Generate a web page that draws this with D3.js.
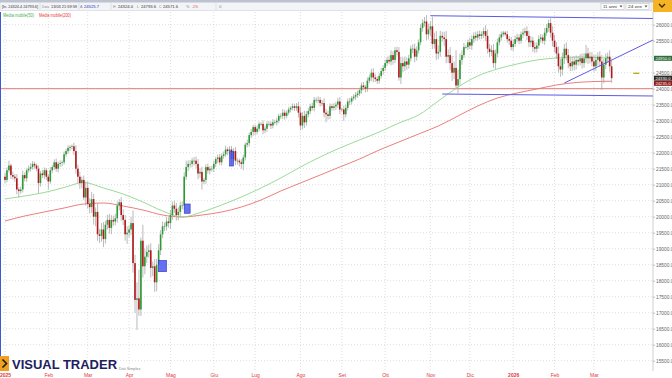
<!DOCTYPE html>
<html>
<head>
<meta charset="utf-8">
<style>
body{margin:0;background:#fff;}
svg{display:block;font-family:"Liberation Sans",Arial,sans-serif;}
</style>
</head>
<body>
<script src="https://cdn.jsdelivr.net/npm/d3@7"></script>
<script>
// daily closes, 2 Jan 2025 -> 13 Mar 2026 (open = previous close)
var closes = [
  // gen 2025
  21150,21450,21600,21300,21250,21200,20850,20800,20850,21300,21200,21450,21500,21550,21650,21600,21500,21050,21350,21300,21450,21250,
  // feb
  21100,21450,21550,21700,21500,21650,21680,21700,21950,22050,22150,22180,22200,22050,21500,21250,21050,21150,20600,20900,
  // mar
  20400,20300,20550,20000,20150,19450,19400,19600,19300,19750,19900,19650,19900,19850,19950,20350,20450,20050,19900,19450,19500,
  // apr
  19600,19800,18550,17400,17450,17100,19250,18450,18750,18900,18950,18400,18450,17950,18500,18950,19450,19700,19700,19850,19800,
  // mag
  20050,20350,20250,20050,20150,20350,20350,21250,21550,21650,21650,21750,21750,21650,21350,21400,21100,21150,21550,21450,21500,21500,
  // giu
  21650,21800,21850,21700,21900,21950,22100,22050,22100,21800,22050,21750,21750,21700,21650,21850,22250,22300,22550,22650,22800,
  // lug
  22650,22750,22900,22900,22700,22750,22900,22900,22850,22950,22950,23000,23150,23150,23250,23150,23250,23350,23400,23450,23400,23450,23250,
  // ago
  22850,23150,22950,23200,23300,23450,23400,23650,23650,23650,23550,23550,23250,23200,23150,23450,23400,23450,23500,23600,23350,
  // set
  23350,23200,23400,23600,23600,23700,23750,23800,23850,23950,24100,24050,24000,24250,24350,24500,24350,24300,24250,24400,24550,24650,
  // ott
  24800,24900,24850,25050,24900,25200,25150,24350,24800,24700,24850,24750,24950,25250,25250,25000,25200,25450,25900,26050,26100,25700,25850,
  // nov
  25950,25400,25550,25100,25150,25650,25600,25550,25000,25050,24800,24500,24650,24100,24300,24900,25050,25300,25300,25450,
  // dic
  25350,25550,25650,25600,25700,25650,25700,25800,25650,25250,25150,25200,24800,25100,25450,25600,25700,25750,25700,25550,25500,25300,
  // gen 2026
  25400,25550,25600,25500,25700,25750,25800,25650,25450,25500,25300,25250,25350,25550,25600,25500,25750,25900,26050,25750,25500,
  // feb
  25300,25100,24700,24600,24950,25250,25050,24800,24700,24850,24750,24900,24850,24950,24800,24950,25100,24950,25000,24850,
  // mar
  24700,24900,25000,24850,24350,24750,24950,25000,24700,24330
];
var firstOpen = 21250;

// wick length above / below the body, points
var wickUp = [
  120,90,150,60,110,80,130,70,90,140, 80,60,100,120,90,70,60,100,80,110,
  90,70,80,100,60,90,120,70,80,60, 90,70,80,60,60,110,180,130,150,100,
  140,200,200,180,220,160,140,250,170,200, 230,120,160,190,150,130,140,120,100,160,
  180,150,200,120,200,400,260,500,900,100, 500,250,200,180,220,150,230,180,190,130,
  150,120,140,130,160,120,150,180,140,120, 130,140,200,110,120,90,110,130,150,120,
  160,60,90,110,80,90,100,70,90,110, 80,90,120,70,100,110,90,130,80,60,
  100,90,70,110,80,90,70,80,100,70, 50,110,90,80,90,70,100,80,90,70,
  80,110,90,70,80,60,90,80,100,140, 180,120,160,100,90,80,110,90,80,110,
  90,100,150,120,110,90,80,100,90,110, 140,60,120,100,90,110,70,80,100,90,
  80,90,110,70,100,90,120,140,100,80, 90,100,80,110,90,130,150,120,100,110,
  150,200,180,150,120,110,100,140,160,120, 90,110,120,140,200,180,150,300,200,250,
  200,160,130,180,250,180,250,220,200,550, 300,200,150,130,60,80,140,120,110,130,
  100,120,90,110,180,200,150,160,200,120, 110,100,90,60,50,110,90,120,130,110,
  120,100,90,130,110,150,160,140,120,150, 100,120,110,90,150,120,110,150,200,180,
  160,220,230,180,150,200,190,170,150,160, 140,120,130,150,160,270,180,150,140,200,
  160,140,170,200,180,150,130,200,190
];
var wickDn = [
  100,80,70,120,90,110,150,200,80,90, 100,120,70,90,80,100,80,310,110,90,
  120,100,250,70,90,80,100,120,90,110, 70,80,90,100,80,120,150,200,180,160,
  80,250,150,200,180,250,300,200,220,180, 250,140,150,180,200,130,120,140,150,180,
  160,200,300,150,180,300,400,940,200,200, 350,250,200,180,300,260,300,280,200,150,
  120,150,130,140,180,150,130,170,160,150, 120,140,100,130,120,110,150,140,180,130,
  250,80,120,100,130,90,110,100,120,90, 100,90,80,120,110,150,100,140,120,130,
  150,200,90,80,110,90,120,100,80,90, 60,120,90,100,80,110,90,70,100,80,
  90,100,120,80,70,90,80,100,90,150, 150,120,180,110,90,100,80,110,90,100,
  110,90,150,250,120,100,90,80,110,100, 140,60,200,100,80,110,90,70,100,90,
  80,110,90,120,100,80,110,150,90,100, 90,80,110,100,90,80,120,150,100,110,
  100,200,180,150,160,120,100,140,170,120, 100,90,120,110,180,160,200,170,150,200,
  180,150,130,220,200,200,220,260,200,120, 240,180,150,100,50,90,110,140,120,100,
  90,110,100,120,160,150,170,130,150,180, 120,100,90,70,60,110,130,100,120,90,
  100,110,90,120,100,130,150,140,150,130, 120,100,110,90,130,100,120,150,180,160,
  170,200,230,190,180,170,160,150,140,180, 150,130,120,170,150,140,180,160,150,170,
  150,170,160,390,180,140,150,170,150
];

// moving averages as drawn, sampled every 10 sessions
var maIdx = [0,10,20,30,40,50,60,70,80,90,100,110,120,130,140,150,160,170,180,190,200,210,220,230,240,250,260,270,280,290,300,308];
var ma50  = [20553,20647,20756,20912,21069,20897,20709,20459,20178,19991,20147,20366,20616,20897,21209,21553,21866,22147,22397,22647,22928,23178,23616,24053,24397,24616,24772,24897,24960,24990,24975,24950];
var ma200 = [19866,20022,20147,20272,20397,20428,20334,20209,20053,19991,20053,20147,20303,20522,20803,21053,21303,21553,21803,22084,22334,22584,22834,23147,23459,23709,23866,23991,24116,24194,24225,24235];

var holidays = ["2025-04-18","2025-12-25","2026-01-01"];
var monthNames = ["Gen","Feb","Mar","Apr","Mag","Giu","Lug","Ago","Set","Ott","Nov","Dic"];
var yTicks = [15500,16000,16500,17000,17500,18000,18500,19000,19500,20000,20500,21000,21500,22000,22500,23000,23500,24000,24500,25000,25500,26000];

// highlighted boxes [from, to, top, bottom] and drawn lines [i1, v1, i2, v2]
var boxes = [[78,82,18635,18281],[91,94,20397,20107],[114,116,22031,21584]];
var trendLines = [[216,26281,329,26194],[222,23834,329,23772],[284,24178,329,25522]];
var hLevel = 24000;
var orderMark = [319,322,24480];

var W = 672, H = 378;
var plotR = 653, plotT = 12, plotB = 371;

// trading days
var fmt = d3.timeFormat("%Y-%m-%d");
var dates = d3.timeDay.range(new Date(2025,0,2), new Date(2026,2,14))
  .filter(function(d){ return d.getDay() > 0 && d.getDay() < 6 && holidays.indexOf(fmt(d)) < 0; });
if (dates.length !== closes.length) console.log("length mismatch", dates.length, closes.length);

var candles = closes.map(function(c, i){
  var o = i === 0 ? firstOpen : closes[i-1];
  return {i: i, o: o, c: c, h: Math.max(o,c) + wickUp[i], l: Math.min(o,c) - wickDn[i]};
});

var x = d3.scaleLinear().domain([0, 329]).range([5, plotR]);
var y = d3.scaleLinear().domain([15500, 26000]).range([360.7, 24.7]);

var svg = d3.select("body").append("svg").attr("width", W).attr("height", H);

svg.append("defs").append("clipPath").attr("id","clip")
  .append("rect").attr("x",0).attr("y",plotT).attr("width",plotR).attr("height",plotB-plotT);

// grid
var monthIdx = [];
dates.forEach(function(d, i){ if (i === 0 || d.getMonth() !== dates[i-1].getMonth()) monthIdx.push(i); });

svg.append("g").selectAll("line").data(yTicks).enter().append("line")
  .attr("x1", 0).attr("x2", plotR)
  .attr("y1", function(d){ return y(d); }).attr("y2", function(d){ return y(d); })
  .attr("stroke", "#c8c8c8").attr("stroke-width", 0.6).attr("stroke-dasharray", "1,2");
svg.append("g").selectAll("line").data(monthIdx).enter().append("line")
  .attr("x1", function(d){ return x(d); }).attr("x2", function(d){ return x(d); })
  .attr("y1", plotT).attr("y2", plotB)
  .attr("stroke", "#c8c8c8").attr("stroke-width", 0.6).attr("stroke-dasharray", "1,2");

var plot = svg.append("g").attr("clip-path", "url(#clip)");

// horizontal level + moving averages
plot.append("line").attr("x1", 0).attr("x2", plotR).attr("y1", y(hLevel)).attr("y2", y(hLevel))
  .attr("stroke", "#e06a6a").attr("stroke-width", 0.9);

var maLine = d3.line().curve(d3.curveMonotoneX)
  .x(function(d){ return x(d[0]); }).y(function(d){ return y(d[1]); });
plot.append("path").datum(maIdx.map(function(d, k){ return [d, ma200[k]]; }))
  .attr("d", maLine).attr("fill", "none").attr("stroke", "#e8706e").attr("stroke-width", 0.9);
plot.append("path").datum(maIdx.map(function(d, k){ return [d, ma50[k]]; }))
  .attr("d", maLine).attr("fill", "none").attr("stroke", "#8fd68f").attr("stroke-width", 0.9);

// candles
var cg = plot.append("g");
cg.selectAll("line").data(candles).enter().append("line")
  .attr("x1", function(d){ return x(d.i); }).attr("x2", function(d){ return x(d.i); })
  .attr("y1", function(d){ return y(d.h); }).attr("y2", function(d){ return y(d.l); })
  .attr("stroke", "#a8a8a8").attr("stroke-width", 0.8);
cg.selectAll("rect").data(candles).enter().append("rect")
  .attr("x", function(d){ return x(d.i) - 0.8; })
  .attr("width", 1.6)
  .attr("y", function(d){ return y(Math.max(d.o, d.c)); })
  .attr("height", function(d){ return Math.max(0.6, Math.abs(y(d.o) - y(d.c))); })
  .attr("fill", function(d){ return d.c >= d.o ? "#2c9a35" : "#b3161b"; });

// blue highlight boxes
plot.selectAll(".box").data(boxes).enter().append("rect")
  .attr("x", function(d){ return x(d[0]); })
  .attr("width", function(d){ return x(d[1]) - x(d[0]); })
  .attr("y", function(d){ return y(d[2]); })
  .attr("height", function(d){ return y(d[3]) - y(d[2]); })
  .attr("fill", "#4a58ee").attr("fill-opacity", 0.85).attr("stroke", "#2b35c0").attr("stroke-width", 0.6);

// trend lines
plot.selectAll(".tl").data(trendLines).enter().append("line")
  .attr("x1", function(d){ return x(d[0]); }).attr("y1", function(d){ return y(d[1]); })
  .attr("x2", function(d){ return x(d[2]); }).attr("y2", function(d){ return y(d[3]); })
  .attr("stroke", "#5b5be0").attr("stroke-width", 1);

plot.append("line").attr("x1", x(orderMark[0])).attr("x2", x(orderMark[1]))
  .attr("y1", y(orderMark[2])).attr("y2", y(orderMark[2]))
  .attr("stroke", "#c9a21a").attr("stroke-width", 1.4);

// frame
svg.append("line").attr("x1", 0.5).attr("x2", 0.5).attr("y1", plotT).attr("y2", plotB)
  .attr("stroke", "#3b5bd0").attr("stroke-width", 1);
svg.append("line").attr("x1", plotR).attr("x2", plotR).attr("y1", plotT).attr("y2", plotB)
  .attr("stroke", "#b0b0b0").attr("stroke-width", 0.6);

// value tags on the right, nudged apart so they don't cover each other
var last = candles[candles.length - 1];
var tags = [
  {v: ma50[ma50.length - 1], fill: "#2f6e3a"},
  {v: last.c, fill: "#2b2b2b"},
  {v: ma200[ma200.length - 1], fill: "#8e1c1c"}
];
var prevY = -100;
tags.forEach(function(d){ d.ty = Math.max(y(d.v), prevY + 5.2); prevY = d.ty; });

// right axis (labels hidden under a tag are dropped, like the platform does)
var shownTicks = yTicks.filter(function(t){
  return tags.every(function(d){ return Math.abs(y(t) - d.ty) > 4.5; });
});
var yAxis = svg.append("g").attr("transform", "translate(" + plotR + ",0)")
  .call(d3.axisRight(y).tickValues(shownTicks).tickSize(2).tickPadding(1)
    .tickFormat(function(d){ return d.toFixed(1); }));
yAxis.select(".domain").remove();
yAxis.selectAll("line").attr("stroke", "#888").attr("stroke-width", 0.5);
yAxis.selectAll("text").attr("font-size", 4.8).attr("fill", "#666").attr("font-family", "Liberation Sans, Arial, sans-serif");

var tg = svg.append("g").selectAll("g").data(tags).enter().append("g")
  .attr("transform", function(d){ return "translate(" + (plotR + 1) + "," + d.ty + ")"; });
tg.append("rect").attr("x", 0).attr("y", -2.5).attr("width", 18).attr("height", 5)
  .attr("fill", function(d){ return d.fill; });
tg.append("text").attr("x", 1.5).attr("y", 1.6).attr("font-size", 4.3).attr("fill", "#fff")
  .attr("textLength", 15).attr("lengthAdjust", "spacingAndGlyphs")
  .text(function(d){ return d.v.toFixed(1); });

// bottom month axis
var xAxis = svg.append("g").attr("transform", "translate(0," + plotB + ")")
  .call(d3.axisBottom(x).tickValues(monthIdx).tickSize(0).tickPadding(2)
    .tickFormat(function(i){ var m = dates[i].getMonth(); return m === 0 ? String(dates[i].getFullYear()) : monthNames[m]; }));
xAxis.select(".domain").remove();
xAxis.selectAll("text").attr("font-size", 5).attr("fill", "#e0393a")
  .attr("font-family", "Liberation Sans, Arial, sans-serif")
  .attr("font-weight", function(i){ return dates[i].getMonth() === 0 ? "bold" : "normal"; });

// header bar
svg.append("rect").attr("x", 0).attr("y", 0).attr("width", W).attr("height", 2.5).attr("fill", "#bcc2cf");
svg.append("rect").attr("x", 0).attr("y", 2.5).attr("width", 652).attr("height", 8).attr("fill", "#f3f4f7")
  .attr("stroke", "#c9ccd4").attr("stroke-width", 0.5);
var head = [
  {x: 2, w: 36, t: "[In. 24324.4 24793.6]", c: "#333"},
  {x: 42, w: 7, t: "Data", c: "#888"},
  {x: 51, w: 26, t: "13/03 21:59:59", c: "#333"},
  {x: 80, w: 2.5, t: "A", c: "#888"},
  {x: 84, w: 15, t: "24525.7", c: "#2233bb"},
  {x: 113, w: 2.5, t: "H", c: "#888"},
  {x: 118, w: 15, t: "24324.0", c: "#333"},
  {x: 137, w: 2, t: "L", c: "#888"},
  {x: 141, w: 15, t: "24793.6", c: "#333"},
  {x: 159, w: 2.5, t: "C", c: "#888"},
  {x: 163, w: 15, t: "24571.6", c: "#333"},
  {x: 186, w: 3.5, t: "%", c: "#888"},
  {x: 192, w: 6, t: "-1%", c: "#e0393a"},
  {x: 219, w: 2.5, t: "0", c: "#888"}
];
svg.append("g").selectAll("text").data(head).enter().append("text")
  .attr("x", function(d){ return d.x; }).attr("y", 8.2)
  .attr("font-size", 4.2).attr("fill", function(d){ return d.c; })
  .attr("textLength", function(d){ return d.w; }).attr("lengthAdjust", "spacingAndGlyphs")
  .text(function(d){ return d.t; });
[40, 79, 111, 216].forEach(function(sx){
  svg.append("line").attr("x1", sx).attr("x2", sx).attr("y1", 3).attr("y2", 10).attr("stroke", "#c9ccd4").attr("stroke-width", 0.5);
});
[[601, "11 anni"], [626, "24 ore"]].forEach(function(d){
  svg.append("rect").attr("x", d[0]).attr("y", 3.5).attr("width", 23).attr("height", 6)
    .attr("fill", "#fff").attr("stroke", "#b5b8c0").attr("stroke-width", 0.5);
  svg.append("text").attr("x", d[0] + 2).attr("y", 8.1).attr("font-size", 4.2).attr("fill", "#333")
    .attr("textLength", 14).attr("lengthAdjust", "spacingAndGlyphs").text(d[1]);
  svg.append("path").attr("d", "M" + (d[0] + 18.5) + ",5.5 l1.5,2 l1.5,-2 z").attr("fill", "#555");
});
svg.append("rect").attr("x", 653).attr("y", 0).attr("width", 19).attr("height", 12).attr("fill", "#f4b324");
svg.append("path").attr("d", "M659,4 l3,3 l3,-3").attr("fill", "none").attr("stroke", "#3a2a00").attr("stroke-width", 1.3);

// legend
svg.append("text").attr("x", 3).attr("y", 16.5).attr("font-size", 4.5).attr("fill", "#4caf50")
  .attr("textLength", 31).attr("lengthAdjust", "spacingAndGlyphs").text("Media mobile(50)");
svg.append("text").attr("x", 39).attr("y", 16.5).attr("font-size", 4.5).attr("fill", "#e53935")
  .attr("textLength", 32).attr("lengthAdjust", "spacingAndGlyphs").text("Media mobile(200)");

// logo
svg.append("rect").attr("x", 0).attr("y", 356).attr("width", 9).attr("height", 15).attr("fill", "#f0a020");
svg.append("path").attr("d", "M2.5,359.5 L6.5,363.5 L2.5,367.5").attr("fill", "none").attr("stroke", "#1b1b1b").attr("stroke-width", 1.6);
svg.append("text").attr("x", 12).attr("y", 368.5).attr("font-size", 13).attr("font-weight", 600)
  .attr("fill", "#1c2060").attr("textLength", 105).attr("lengthAdjust", "spacingAndGlyphs").text("VISUAL TRADER");
svg.append("text").attr("x", 119).attr("y", 370).attr("font-size", 3.8).attr("fill", "#888").text("Dati Simplex");
</script>
</body>
</html>
